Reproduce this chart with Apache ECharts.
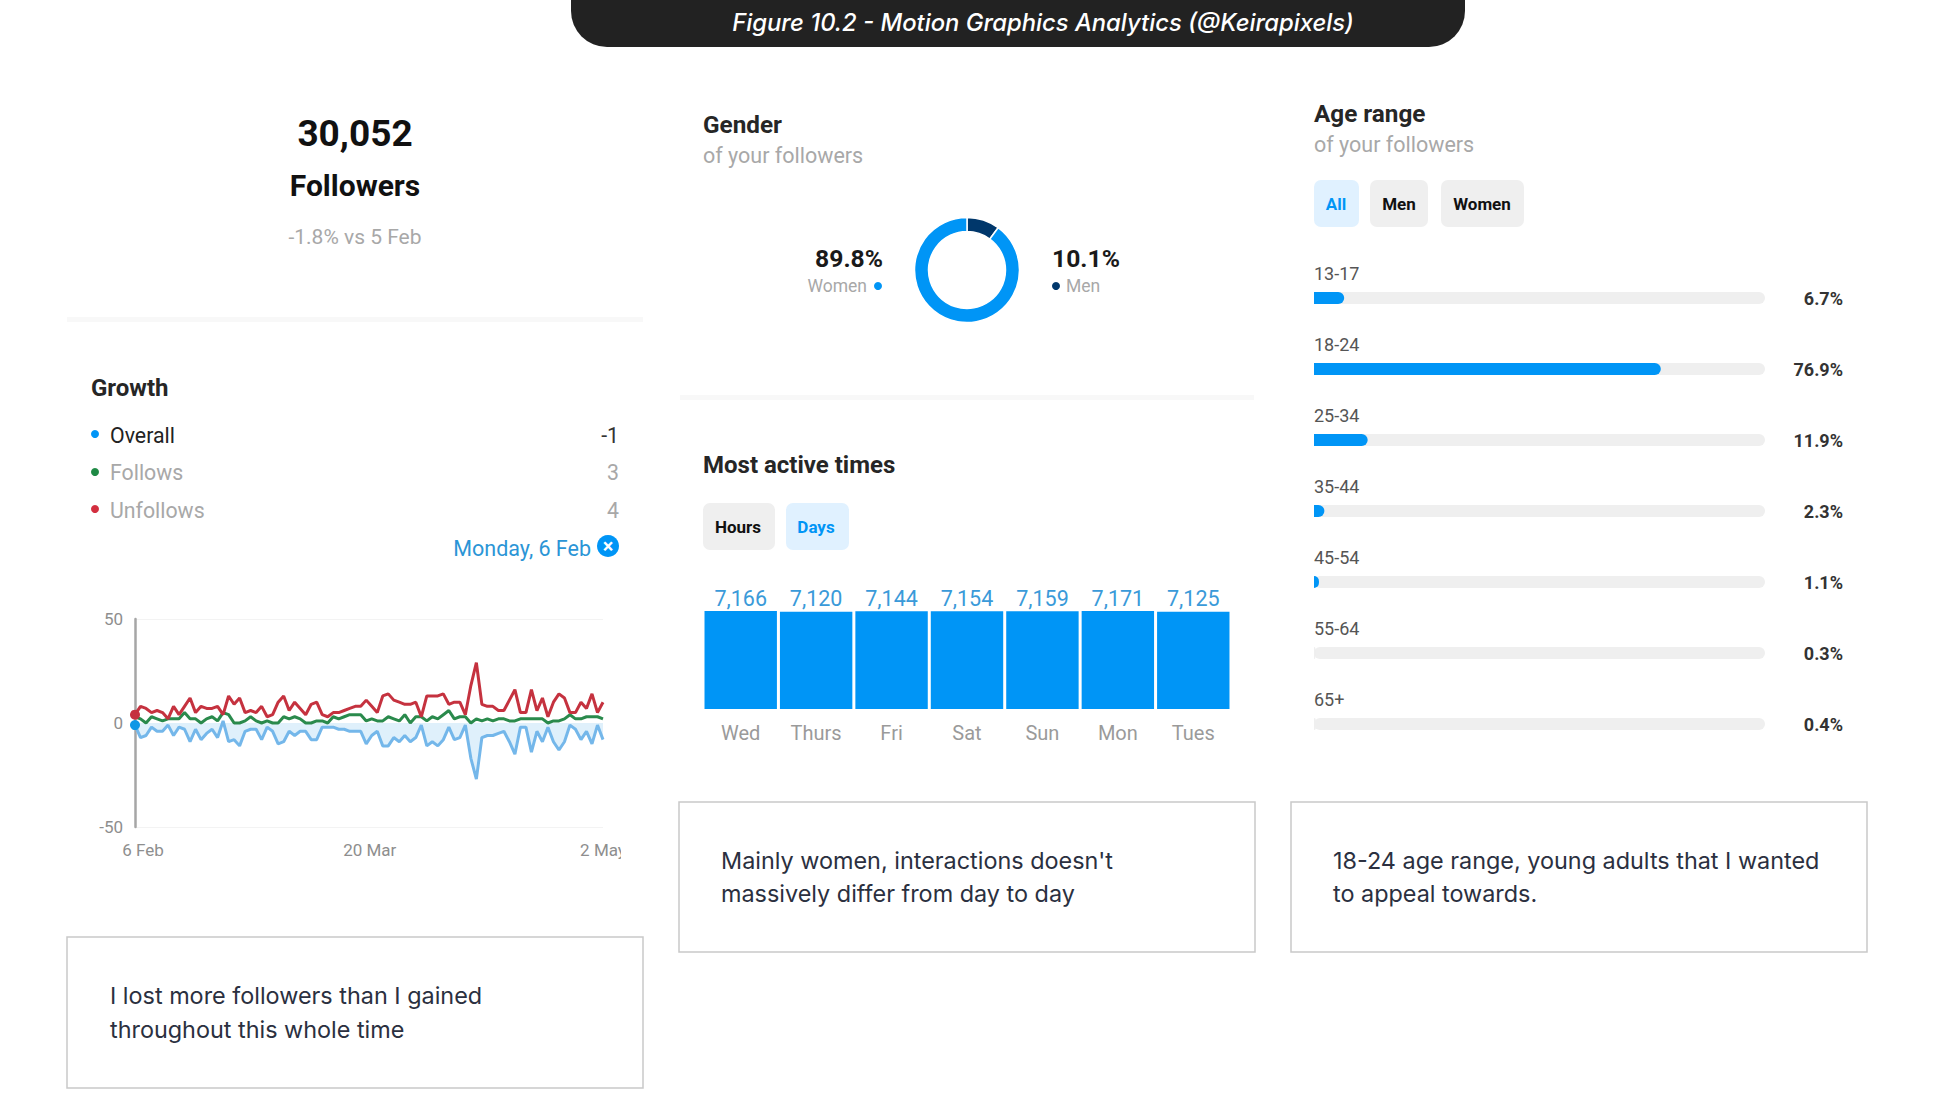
<!DOCTYPE html>
<html>
<head>
<meta charset="utf-8">
<title>Motion Graphics Analytics</title>
<script src="https://cdn.jsdelivr.net/npm/echarts@6/dist/echarts.min.js"></script>
<style>
  html, body { margin: 0; padding: 0; background: #fff; }
  #chart { width: 1934px; height: 1108px; }
</style>
</head>
<body>
<div id="chart"></div>
<script>
// growth, one value per day from 6 Feb
var growthOverall = [
  -1,-7,-6,-2,-4,-4,-1,-6,-2,-3,
  -9,-3,-8,-5,-3,-7,1,-9,-8,-11,
  -4,-3,-3,-8,-2,-4,-10,-9,-4,-6,
  -4,-4,-8,-8,-2,-2,-2,-3,-3,-4,
  -4,-4,-10,-6,-4,-11,-11,-7,-9,-6,
  -9,-7,-1,-11,-9,-11,-8,-2,-8,-7,
  -1,-17,-27,-7,-6,-6,-5,-4,-9,-15,
  -2,-2,-14,-4,-9,-2,-9,-13,-9,-1,
  -3,-8,-4,-10,-1,-8
];
var growthFollows = [
  3,2,0,3,2,1,2,2,2,5,
  2,2,0,2,3,1,5,4,0,0,
  1,3,1,0,1,0,0,3,2,3,
  2,0,0,1,1,0,3,2,3,4,
  4,4,1,2,1,1,3,2,1,4,
  0,3,3,1,3,2,4,6,2,3,
  3,0,2,1,2,1,2,2,1,1,
  2,2,2,2,2,0,1,1,2,4,
  2,2,3,3,3,2
];
var growthUnfollows = [
  4,8,7,5,6,5,2,8,4,8,
  12,5,8,7,7,8,4,13,9,12,
  5,6,5,8,3,4,10,13,6,10,
  7,4,9,10,4,3,5,5,6,7,
  8,8,11,8,5,13,14,11,10,9,
  9,10,3,13,13,13,14,9,10,10,
  4,18,29,9,8,8,6,6,11,16,
  5,5,16,6,12,3,10,14,12,5,
  5,10,7,14,5,10
];
var growthTicks = { 0: '6 Feb', 42: '20 Mar', 85: '2 May' };

var genderNames = ['Men', 'Women'];
var genderValues = [10.1, 89.8];

var dayNames = ['Wed', 'Thurs', 'Fri', 'Sat', 'Sun', 'Mon', 'Tues'];
var dayValues = [7166, 7120, 7144, 7154, 7159, 7171, 7125];

var ageNames = ['13-17', '18-24', '25-34', '35-44', '45-54', '55-64', '65+'];
var ageValues = [6.7, 76.9, 11.9, 2.3, 1.1, 0.3, 0.4];

var blue = '#0095f6', navy = '#00376b', grey = '#a8a8a8', ink = '#1f1f1f', track = '#efefef';

function txt(x, y, s, size, color, weight, align, family, italic) {
  return {
    type: 'text', x: x, y: y, z: 50,
    style: {
      text: s, fontSize: size, fill: color, fontWeight: weight || 'normal',
      fontFamily: family || 'Roboto', fontStyle: italic ? 'italic' : 'normal',
      textAlign: align || 'left', textVerticalAlign: 'middle'
    }
  };
}
function box(x, y, w, h, fill, r, stroke) {
  return {
    type: 'rect', z: 40, shape: { x: x, y: y, width: w, height: h, r: r || 0 },
    style: { fill: fill, stroke: stroke || null, lineWidth: stroke ? 1.5 : 0 }
  };
}
function dot(x, y, r, color) {
  return { type: 'circle', z: 50, shape: { cx: x, cy: y, r: r }, style: { fill: color } };
}

var boxFont = 'Inter', boxInk = '#2b3040', boxSize = 23.4;

var elements = [
  // header tab
  box(571, -10, 894, 57, '#222222', [0, 0, 36, 36]),
  txt(1043, 22, 'Figure 10.2 - Motion Graphics Analytics (@Keirapixels)', 23.8, '#ffffff', 500, 'center', 'Inter', true),

  // followers
  txt(355, 133, '30,052', 37, '#111', 'bold', 'center'),
  txt(355, 185, 'Followers', 30, '#111', 'bold', 'center'),
  txt(355, 237, '-1.8% vs 5 Feb', 21, grey, 'normal', 'center'),
  box(67, 317, 576, 5, '#f8f8f8'),

  // growth legend
  txt(91, 388, 'Growth', 24, '#262626', 'bold'),
  dot(95, 434, 4, blue), txt(110, 435, 'Overall', 21.3, '#222'), txt(619, 435, '-1', 21.3, '#333', 'normal', 'right'),
  dot(95, 472, 4, '#1f8a45'), txt(110, 472, 'Follows', 21.3, grey), txt(619, 472, '3', 21.3, grey, 'normal', 'right'),
  dot(95, 509, 4, '#d32f3f'), txt(110, 510, 'Unfollows', 21.3, grey), txt(619, 510, '4', 21.3, grey, 'normal', 'right'),
  txt(591, 548, 'Monday, 6 Feb', 21.5, '#2b95d6', 'normal', 'right'),
  dot(608, 546, 11, blue), txt(608, 546, '×', 20, '#fff', 'bold', 'center'),
  box(621, 836, 24, 30, '#fff'),

  // gender
  txt(703, 124, 'Gender', 24.3, '#262626', 'bold'),
  txt(703, 155, 'of your followers', 21.5, grey),
  txt(883, 258, '89.8%', 24.7, '#1a1a1a', 'bold', 'right'),
  txt(867, 286, 'Women', 17.5, grey, 'normal', 'right'), dot(878, 286, 4, blue),
  txt(1052, 258, '10.1%', 24.7, '#1a1a1a', 'bold'),
  dot(1056, 286, 4, navy), txt(1066, 286, 'Men', 17.5, grey),
  box(680, 395, 574, 5, '#f8f8f8'),

  // most active times
  txt(703, 465, 'Most active times', 24, '#262626', 'bold'),
  box(703, 503, 72, 47, track, 7), txt(738, 527, 'Hours', 17, '#111', 'bold', 'center'),
  box(786, 503, 63, 47, '#e0f1ff', 7), txt(816, 527, 'Days', 17, blue, 'bold', 'center'),

  // age range
  txt(1314, 113, 'Age range', 24.3, '#262626', 'bold'),
  txt(1314, 144, 'of your followers', 21.5, grey),
  box(1314, 180, 45, 47, '#e0f1ff', 7), txt(1336, 204, 'All', 17, blue, 'bold', 'center'),
  box(1370, 180, 58, 47, track, 7), txt(1399, 204, 'Men', 17, '#111', 'bold', 'center'),
  box(1441, 180, 83, 47, track, 7), txt(1482, 204, 'Women', 17, '#111', 'bold', 'center'),

  // notes
  box(67, 937, 576, 151, '#fff', 0, '#c9c9c9'),
  txt(110, 995, 'I lost more followers than I gained', boxSize, boxInk, 'normal', 'left', boxFont),
  txt(110, 1029, 'throughout this whole time', boxSize, boxInk, 'normal', 'left', boxFont),
  box(679, 802, 576, 150, '#fff', 0, '#c9c9c9'),
  txt(721, 860, "Mainly women, interactions doesn't", boxSize, boxInk, 'normal', 'left', boxFont),
  txt(721, 893, 'massively differ from day to day', boxSize, boxInk, 'normal', 'left', boxFont),
  box(1291, 802, 576, 150, '#fff', 0, '#c9c9c9'),
  txt(1333, 860, '18-24 age range, young adults that I wanted', boxSize, boxInk, 'normal', 'left', boxFont),
  txt(1333, 893, 'to appeal towards.', boxSize, boxInk, 'normal', 'left', boxFont)
];

function firstDot(v, p) { return p.dataIndex === 0 ? 10 : 0; }

var chart = echarts.init(document.getElementById('chart'), null, { renderer: 'svg' });
chart.setOption({
  animation: false,
  backgroundColor: '#fff',
  textStyle: { fontFamily: 'Roboto' },
  graphic: { elements: elements },
  grid: [
    { left: 135, top: 619, width: 468, height: 208 },
    { left: 703, top: 611, width: 528, height: 98 },
    { left: 1314, top: 262.5, width: 451, height: 497 }
  ],
  xAxis: [
    {
      gridIndex: 0, type: 'category', boundaryGap: false,
      data: growthOverall.map(function(v, i) { return growthTicks[i] || ''; }),
      axisLine: { show: false }, axisTick: { show: false },
      axisLabel: {
        margin: 14, color: '#8e8e8e', fontSize: 17, hideOverlap: false, showMinLabel: true, showMaxLabel: true,
        interval: function(i) { return !!growthTicks[i]; },
        formatter: function(v) {
          if (v === '6 Feb') return '{a|' + v + '}';
          if (v === '20 Mar') return '{b|' + v + '}';
          return v;
        },
        rich: {
          a: { color: '#8e8e8e', fontSize: 17, padding: [0, 0, 0, 16] },
          b: { color: '#8e8e8e', fontSize: 17, padding: [0, 0, 0, 7] }
        }
      }
    },
    {
      gridIndex: 1, type: 'category', data: dayNames,
      axisLine: { show: false }, axisTick: { show: false },
      axisLabel: { margin: 14, color: '#9a9a9a', fontSize: 20 }
    },
    { gridIndex: 2, type: 'value', min: 0, max: 100, show: false }
  ],
  yAxis: [
    {
      gridIndex: 0, type: 'value', min: -50, max: 50, interval: 50,
      axisLine: { show: true, lineStyle: { color: '#a6a6a6', width: 2.5 } }, axisTick: { show: false },
      axisLabel: { margin: 12, color: '#8e8e8e', fontSize: 17 },
      splitLine: { lineStyle: { color: ['#f3f3f3', 'transparent', '#f3f3f3'] } }
    },
    { gridIndex: 1, type: 'value', min: 0, max: 7171, show: false },
    {
      gridIndex: 2, type: 'category', inverse: true, data: ageNames,
      axisLine: { show: false }, axisTick: { show: false },
      axisLabel: {
        inside: true, margin: 0, align: 'left', verticalAlign: 'bottom',
        padding: [0, 0, 16, 0], color: '#555', fontSize: 18
      }
    },
    {
      gridIndex: 2, type: 'category', inverse: true, position: 'right',
      data: ageValues.map(function(v) { return v + '%'; }),
      axisLine: { show: false }, axisTick: { show: false },
      axisLabel: { margin: 78, align: 'right', color: '#333', fontSize: 18, fontWeight: 'bold' }
    }
  ],
  series: [
    {
      type: 'line', name: 'Overall', xAxisIndex: 0, yAxisIndex: 0, data: growthOverall,
      showAllSymbol: true, symbol: 'circle', symbolSize: firstDot,
      itemStyle: { color: '#0f97e6' },
      lineStyle: { color: '#74b7ea', width: 3 },
      areaStyle: { color: '#dff0fb', origin: 0, opacity: 1 }
    },
    {
      type: 'line', name: 'Follows', xAxisIndex: 0, yAxisIndex: 0, data: growthFollows,
      showSymbol: false, lineStyle: { color: '#2a8a4c', width: 3 }
    },
    {
      type: 'line', name: 'Unfollows', xAxisIndex: 0, yAxisIndex: 0, data: growthUnfollows,
      showAllSymbol: true, symbol: 'circle', symbolSize: firstDot,
      itemStyle: { color: '#c5323f' },
      lineStyle: { color: '#c5323f', width: 3 }
    },
    {
      type: 'pie', center: [967, 270], radius: [38.5, 52.5], startAngle: 90, silent: true,
      label: { show: false }, labelLine: { show: false },
      itemStyle: { borderColor: '#fff', borderWidth: 1.5 },
      data: [
        { name: genderNames[0], value: genderValues[0], itemStyle: { color: navy } },
        { name: genderNames[1], value: genderValues[1], itemStyle: { color: blue } }
      ]
    },
    {
      type: 'bar', xAxisIndex: 1, yAxisIndex: 1, data: dayValues, barCategoryGap: '4%',
      itemStyle: { color: blue },
      label: {
        show: true, position: 'top', distance: 2, color: '#3a9ad9', fontSize: 21.5,
        formatter: function(p) { return p.value.toLocaleString('en-US'); }
      }
    },
    {
      type: 'bar', xAxisIndex: 2, yAxisIndex: 2, data: ageValues, barWidth: 12,
      showBackground: true,
      backgroundStyle: { color: track, borderRadius: 6 },
      itemStyle: {
        // the two smallest shares don't show as any blue in the original
        color: function(p) { return p.value < 0.5 ? track : blue; },
        borderRadius: [0, 6, 6, 0]
      }
    }
  ]
});
</script>
</body>
</html>
